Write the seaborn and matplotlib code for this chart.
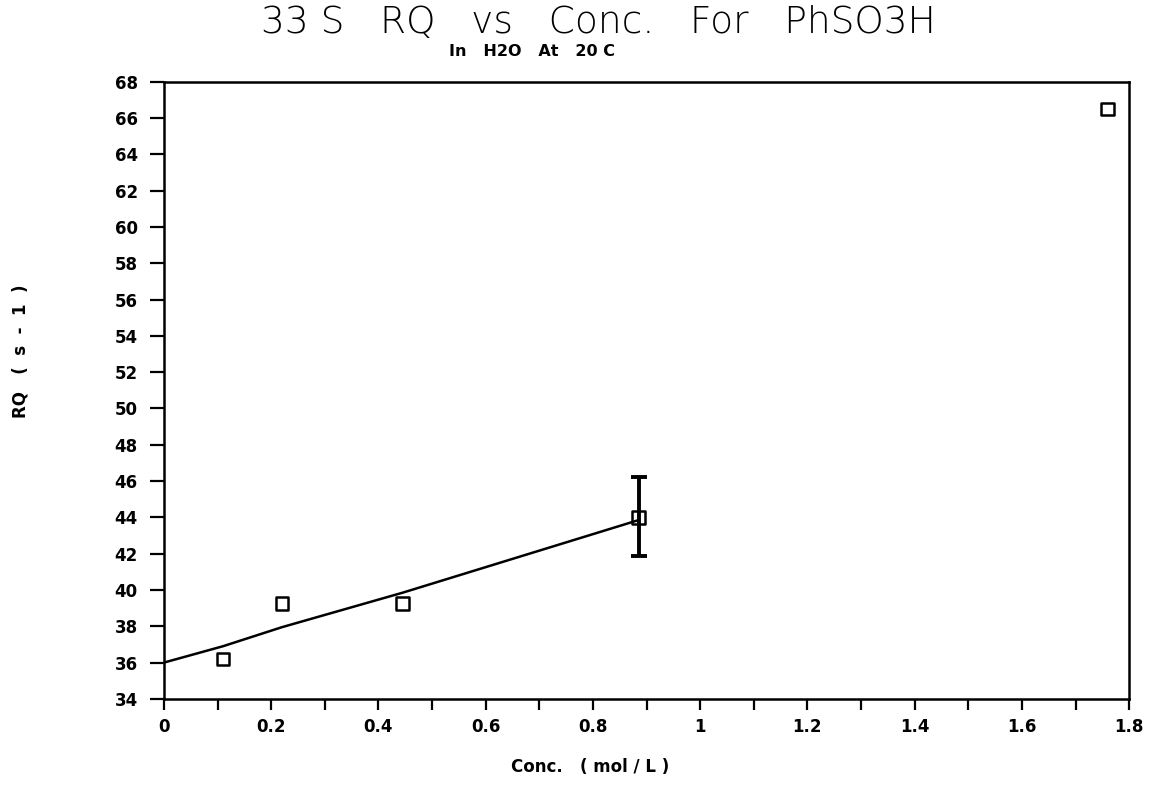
import matplotlib
matplotlib.use("Agg")
import matplotlib.pyplot as plt
import seaborn as sns
from matplotlib.ticker import MultipleLocator

# ---- data ----
conc = [0.11, 0.22, 0.445, 0.885, 1.76]
rq = [36.2, 39.25, 39.25, 44.0, 66.5]

err_x = [0.885]
err_y = [44.0]
err_low = [41.88]
err_high = [46.25]

fit_x = [0.0, 0.11, 0.22, 0.445, 0.885]
fit_y = [36.0, 36.9, 37.95, 39.85, 43.85]

xtick_vals = [0, 0.2, 0.4, 0.6, 0.8, 1.0, 1.2, 1.4, 1.6, 1.8]
xtick_labels = ["0", "0.2", "0.4", "0.6", "0.8", "1", "1.2", "1.4", "1.6", "1.8"]
ytick_vals = list(range(34, 69, 2))
ytick_labels = [str(v) for v in ytick_vals]

title = "33 S   RQ   vs   Conc.   For   PhSO3H"
subtitle = "In   H2O   At   20 C"
xlabel = "Conc.   ( mol / L )"
ylabel = "RQ   (  s  -  1  )"

# ---- plot ----
sns.set_theme(style="white")
plt.rcParams["font.family"] = ["DejaVu Sans"]

fig = plt.figure(figsize=(11.51, 7.87), dpi=100)
ax = fig.add_axes([0.1425, 0.112, 0.8385, 0.784])

sns.lineplot(x=fit_x, y=fit_y, ax=ax, color="black", linewidth=1.8,
             sort=False, estimator=None)
sns.scatterplot(x=conc, y=rq, ax=ax, marker="s", s=85,
                facecolors="none", edgecolors="black", linewidths=1.8,
                zorder=3)
yerr = [[e - l for e, l in zip(err_y, err_low)],
        [h - e for e, h in zip(err_y, err_high)]]
ax.errorbar(err_x, err_y, yerr=yerr, fmt="none", ecolor="black",
            elinewidth=2.8, capsize=6, capthick=2.8, zorder=2)

ax.set_xlim(0, 1.8)
ax.set_ylim(34, 68)
ax.set_xticks(xtick_vals)
ax.set_xticklabels(xtick_labels)
ax.set_yticks(ytick_vals)
ax.set_yticklabels(ytick_labels)
ax.xaxis.set_minor_locator(MultipleLocator(0.1))

for side in ["left", "right", "top", "bottom"]:
    ax.spines[side].set_visible(True)
    ax.spines[side].set_color("black")
    ax.spines[side].set_linewidth(1.8)

ax.tick_params(axis="x", which="both", direction="out", length=8, width=1.6,
               color="black", bottom=True, top=False, pad=6,
               labelsize=12, labelcolor="black")
ax.tick_params(axis="y", which="major", direction="out", length=10, width=1.6,
               color="black", left=True, right=False, pad=9,
               labelsize=12, labelcolor="black")
for lab in ax.get_xticklabels() + ax.get_yticklabels():
    lab.set_fontweight("bold")

ax.set_xlabel("")
ax.set_ylabel("")

fig.text(0.520, 0.971, title, ha="center", va="center", fontsize=27,
         fontweight="light", color="black")
fig.text(0.462, 0.935, subtitle, ha="center", va="center", fontsize=11.5,
         fontweight="bold", color="black")
fig.text(0.513, 0.026, xlabel, ha="center", va="center", fontsize=12,
         fontweight="bold", color="black")
fig.text(0.018, 0.554, ylabel, ha="center", va="center", fontsize=12,
         fontweight="bold", color="black", rotation=90)

fig.savefig("out.png", dpi=100, facecolor="white")
